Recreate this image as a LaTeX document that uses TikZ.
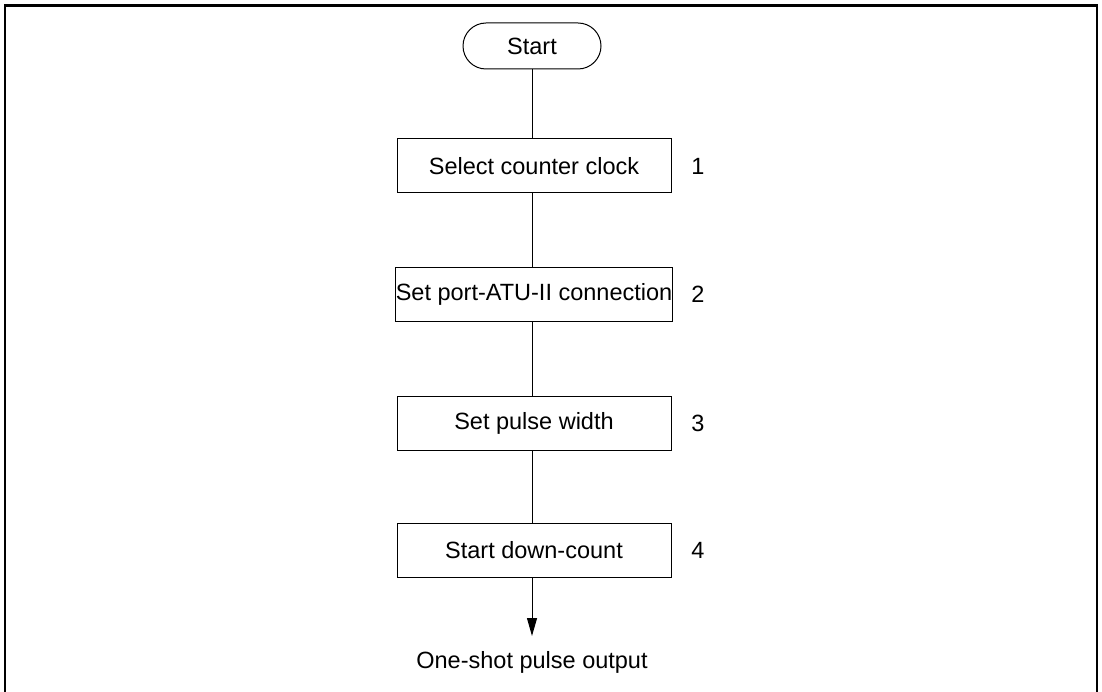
\documentclass[tikz,border=0pt]{standalone}
\usepackage{fontspec}
\setmainfont{Liberation Sans}
\usetikzlibrary{arrows.meta}
\begin{document}
\begin{tikzpicture}[x=1pt,y=-1pt,
  every node/.style={font=\fontsize{23.5}{28}\selectfont},
  stepbox/.style={draw,line width=1pt,minimum width=274pt,minimum height=54pt,inner sep=0pt},
  termbox/.style={draw,line width=1pt,rounded corners=23pt,minimum width=138pt,minimum height=46pt,inner sep=0pt},
  numlbl/.style={anchor=center},
  conn/.style={line width=1pt}]
\useasboundingbox (0,0) rectangle (1102,692);
\draw[line width=2.2pt] (5,700) -- (5,5.5) -- (1097,5.5) -- (1097,700);
\node[termbox] (start) at (532,46) {Start};
\node[stepbox] (s1) at (534,166) {Select counter clock};
\node[stepbox] (s2) at (534,294.5) {Set port-ATU-II connection};
\node[stepbox] (s3) at (534,423.5) {Set pulse width};
\node[stepbox] (s4) at (534,550) {Start down-count};
\node[numlbl] (n1) at (698,166) {1};
\node[numlbl] (n2) at (698,294.5) {2};
\node[numlbl] (n3) at (698,423.5) {3};
\node[numlbl] (n4) at (698,550) {4};
\node (out) at (532,662) {One-shot pulse output};
\coordinate (tip) at (532,636);
\draw[conn] (start.south) -- (start.south |- s1.north);
\draw[conn] (s1.south -| start.south) -- (s2.north -| start.south);
\draw[conn] (s2.south -| start.south) -- (s3.north -| start.south);
\draw[conn] (s3.south -| start.south) -- (s4.north -| start.south);
\draw[conn,-{Triangle[width=10pt,length=18pt]}] (s4.south -| start.south) -- (tip);
\end{tikzpicture}
\end{document}
